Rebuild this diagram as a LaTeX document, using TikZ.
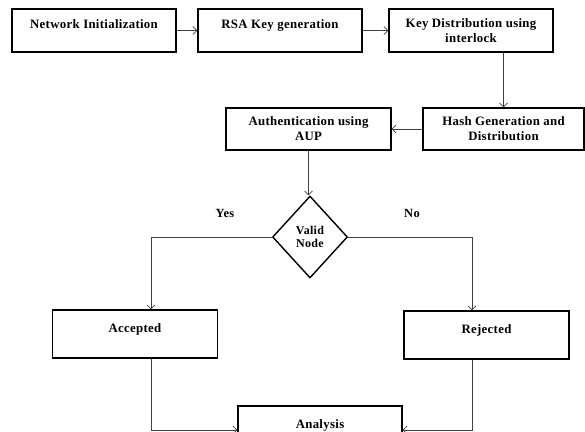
\documentclass[tikz,border=0pt]{standalone}
\usepackage{fontspec}
\setmainfont{Liberation Serif}
\newfontfamily\boxfont[LetterSpace=2.5]{Liberation Serif}
\usetikzlibrary{shapes.geometric,arrows.meta}
\begin{document}
\begin{tikzpicture}[x=1pt,y=-1pt,
  box/.style={draw=black,line width=1.4pt,rectangle,inner sep=0pt,align=center,
    font=\boxfont\bfseries\fontsize{12.8}{15}\selectfont},
  upone/.style={text height=8pt,text depth=12pt},
  arr/.style={draw=black!75,line width=0.7pt,-{Straight Barb[length=4pt,width=8pt]}},
  lbl/.style={font=\boxfont\bfseries\fontsize{12.5}{15}\selectfont,inner sep=0pt}]
\useasboundingbox (0,0) rectangle (585,431);
\node[box,upone,minimum width=164pt,minimum height=43pt] (b1) at (94,30.5) {Network Initialization};
\node[box,upone,minimum width=164pt,minimum height=43pt] (b2) at (280,30.5) {RSA Key generation};
\node[box,minimum width=164pt,minimum height=43pt] (b3) at (471,30.5) {Key Distribution using\\interlock};
\node[box,minimum width=161pt,minimum height=42pt] (hash) at (503.5,129) {Hash Generation and\\Distribution};
\node[box,minimum width=165pt,minimum height=42pt] (auth) at (308.5,129) {Authentication using\\AUP};
\node[box,diamond,minimum width=75pt,minimum height=82pt,font=\boxfont\bfseries\fontsize{12}{13}\selectfont] (dia) at (310,237) {Valid\\Node};
\node[box,upone,minimum width=165pt,minimum height=48pt] (acc) at (135,334) {Accepted};
\node[box,upone,minimum width=165pt,minimum height=48pt] (rej) at (486.5,335) {Rejected};
\node[box,upone,minimum width=164pt,minimum height=48pt] (ana) at (320,430) {Analysis};
\node[lbl] (yes) at (225,213) {Yes};
\node[lbl] (no) at (412,213) {No};
\draw[arr] (b1.east) -- (b2.west);
\draw[arr] (b2.east) -- (b3.west);
\draw[arr] (b3.south -| hash.north) -- (hash.north);
\draw[arr] (hash.west) -- (auth.east);
\draw[arr] (auth.south) -- (auth.south |- dia.north);
\draw[arr] (dia.west) -| ([xshift=16pt]acc.north);
\draw[arr] (dia.east) -| ([xshift=-14.5pt]rej.north);
\draw[arr] ([xshift=16pt]acc.south) |- (ana.west);
\draw[arr] ([xshift=-14.5pt]rej.south) |- (ana.east);
\end{tikzpicture}
\end{document}
